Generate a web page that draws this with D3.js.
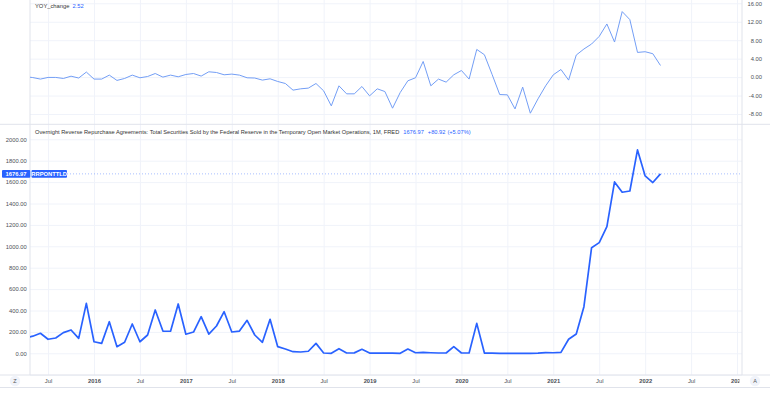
<!DOCTYPE html>
<html>
<head>
<meta charset="utf-8">
<script src="https://cdn.jsdelivr.net/npm/d3@7"></script>
<style>
  html, body { margin: 0; padding: 0; background: #ffffff; }
  svg { display: block; font-family: "Liberation Sans", Arial, sans-serif; }
</style>
</head>
<body>
<svg id="chart" width="770" height="393"></svg>
<script>
// ---------- DATA (monthly, first month = Apr 2015) ----------
const startYear = 2015;
const startMonth = 4; // April

const rrpValues = [
  140, 160, 187, 131, 143, 193, 218, 140, 467,              // 2015 Apr-Dec
  108, 93, 295, 62, 103, 274, 108, 171, 405, 208, 206, 461, // 2016
  178, 199, 342, 180, 255, 389, 199, 208, 308, 171, 103, 318, // 2017
  62, 40, 15, 12, 19, 93, 3, 0, 43, 3, 4, 37,               // 2018
  2, 2, 2, 1, 0, 40, 5, 8, 5, 3, 3, 62,                     // 2019
  3, 3, 280, 2, 1, 0, 0, 0, 0, 0, 1, 6,                     // 2020
  5, 9, 131, 180, 436, 987, 1034, 1184, 1602, 1505, 1517, 1901, // 2021
  1658, 1596.05, 1676.97                                    // 2022 Jan-Mar
];

const yoyValues = [
  0.1, -0.1, -0.43, -0.07, -0.07, -0.3, 0.2, -0.2, 1.09,            // 2015
  -0.43, -0.43, 0.43, -0.72, -0.3, 0.43, -0.15, 0.13, 0.78, 0, 0.43, 0.07, // 2016
  0.57, 0.78, 0.22, 1.15, 1.0, 0.5, 0.65, 0.43, -0.15, -0.2, -0.65, -0.37, // 2017
  -0.95, -1.39, -2.83, -2.54, -2.39, -1.39, -2.98, -6.24, -1.89, -3.63, -3.63, -2.04, // 2018
  -4.07, -2.54, -3.13, -6.74, -3.35, -0.8, -0.15, 3.39, -1.89, -0.43, -1.09, 0.5, // 2019
  1.43, -0.43, 6.0, 4.85, 0.6, -3.78, -3.85, -6.9, -2.17, -7.83, -4.72, -1.89, // 2020
  0.5, 1.65, -0.65, 4.78, 6.09, 7.17, 8.83, 11.52, 7.6, 14.2, 12.46, 5.35, // 2021
  5.5, 5.07, 2.52                                                    // 2022
];

const yoyTicks = [-8, -4, 0, 4, 8, 12, 16];
const rrpTicks = [0, 200, 400, 600, 800, 1000, 1200, 1400, 1600, 1800, 2000];
const timeTickLabels = ["Jul", "2016", "Jul", "2017", "Jul", "2018", "Jul", "2019", "Jul",
                        "2020", "Jul", "2021", "Jul", "2022", "Jul", "2023"];
const timeTickMonths = [-6, 0, 6, 12, 18, 24, 30, 36, 42, 48, 54, 60, 66, 72, 78, 84]; // months since Jan 2016

const topTitle = "YOY_change";
const bottomTitle = "Overnight Reverse Repurchase Agreements: Total Securities Sold by the Federal Reserve in the Temporary Open Market Operations, 1M, FRED";
const bottomSymbol = "RRPONTTLD";

// month index since Jan 2016 for each data point
const offset0 = (startYear - 2016) * 12 + (startMonth - 1);
const rrp = rrpValues.map((v, i) => ({ m: offset0 + i, v }));
const yoy = yoyValues.map((v, i) => ({ m: offset0 + i, v }));

// ---------- LAYOUT ----------
const W = 770, H = 393;
const plotL = 30, plotR = 742;
const topT = 0, topB = 124.3;
const botT = 124.3, botB = 375;

const svg = d3.select("#chart");
svg.append("rect").attr("width", W).attr("height", H).attr("fill", "#fff");

const x = d3.scaleLinear()
  .domain([(plotL - 94) / 7.655, (plotR - 94) / 7.655])
  .range([plotL, plotR]);

const yTop = d3.scaleLinear().domain([-8, 16]).range([114, 3.3]);
const yBot = d3.scaleLinear().domain([0, 2000]).range([353.3, 139.3]);

const gridColor = "#f0f3fa";
const borderColor = "#e0e3eb";
const textColor = "#4c4f57";
const fs = 5.8;

// ---------- GRID ----------
function vGrid(t, b) {
  const g = svg.append("g").attr("transform", `translate(0,${b})`)
    .call(d3.axisBottom(x).tickValues(timeTickMonths).tickSize(-(b - t)).tickFormat(""));
  g.select(".domain").remove();
  g.selectAll("line").attr("stroke", gridColor);
}
vGrid(topT, topB);
vGrid(botT, botB);

const hgTop = svg.append("g").attr("transform", `translate(${plotL},0)`)
  .call(d3.axisLeft(yTop).tickValues(yoyTicks).tickSize(-(plotR - plotL)).tickFormat(""));
hgTop.select(".domain").remove();
hgTop.selectAll("line").attr("stroke", gridColor);

const hgBot = svg.append("g").attr("transform", `translate(${plotL},0)`)
  .call(d3.axisLeft(yBot).tickValues([-200].concat(rrpTicks)).tickSize(-(plotR - plotL)).tickFormat(""));
hgBot.select(".domain").remove();
hgBot.selectAll("line").attr("stroke", gridColor);

// ---------- BORDERS ----------
function hline(y0, x0, x1) {
  svg.append("line").attr("x1", x0).attr("x2", x1).attr("y1", y0).attr("y2", y0)
    .attr("stroke", borderColor).attr("stroke-width", 1);
}
function vline(x0, y0, y1) {
  svg.append("line").attr("x1", x0).attr("x2", x0).attr("y1", y0).attr("y2", y1)
    .attr("stroke", borderColor).attr("stroke-width", 1);
}
hline(topB, 0, W);
hline(botB, 0, W);
hline(387.5, 0, W);
vline(plotL, 0, botB);
vline(plotR, 0, botB);

// ---------- CLIPS ----------
const defs = svg.append("defs");
defs.append("clipPath").attr("id", "clipTop").append("rect")
  .attr("x", plotL).attr("y", topT).attr("width", plotR - plotL).attr("height", topB - topT);
defs.append("clipPath").attr("id", "clipBot").append("rect")
  .attr("x", plotL).attr("y", botT).attr("width", plotR - plotL).attr("height", botB - botT);

// ---------- LINES ----------
const lineTop = d3.line().x(d => x(d.m)).y(d => yTop(d.v));
const lineBot = d3.line().x(d => x(d.m)).y(d => yBot(d.v));

svg.append("path").datum(yoy)
  .attr("clip-path", "url(#clipTop)")
  .attr("d", lineTop)
  .attr("fill", "none")
  .attr("stroke", "#739ef5")
  .attr("stroke-width", 1)
  .attr("stroke-linejoin", "round");

// dotted last-value line
const lastR = rrp[rrp.length - 1];
svg.append("line")
  .attr("x1", 67).attr("x2", plotR)
  .attr("y1", yBot(lastR.v)).attr("y2", yBot(lastR.v))
  .attr("stroke", "#2962ff").attr("stroke-opacity", 0.4)
  .attr("stroke-width", 1).attr("stroke-dasharray", "1,2");

svg.append("path").datum(rrp)
  .attr("clip-path", "url(#clipBot)")
  .attr("d", lineBot)
  .attr("fill", "none")
  .attr("stroke", "#2962ff")
  .attr("stroke-width", 1.7)
  .attr("stroke-linejoin", "round");

// ---------- AXES ----------
const axTop = svg.append("g").attr("transform", "translate(762,0)")
  .call(d3.axisLeft(yTop).tickValues(yoyTicks).tickSize(0).tickPadding(0).tickFormat(d => d.toFixed(2)));
axTop.select(".domain").remove();
axTop.selectAll("text").attr("font-size", fs).attr("fill", textColor).attr("font-family", null);

const axBot = svg.append("g").attr("transform", "translate(26.8,0)")
  .call(d3.axisLeft(yBot).tickValues(rrpTicks).tickSize(0).tickPadding(0).tickFormat(d => d.toFixed(2)));
axBot.select(".domain").remove();
axBot.selectAll("text").attr("font-size", fs).attr("fill", textColor).attr("font-family", null);

const axX = svg.append("g").attr("transform", `translate(0,${botB})`)
  .call(d3.axisBottom(x).tickValues(timeTickMonths).tickSize(0).tickPadding(3.5)
    .tickFormat((d, i) => timeTickLabels[i]));
axX.select(".domain").remove();
axX.selectAll("text").attr("font-size", fs).attr("fill", textColor).attr("font-family", null)
  .attr("font-weight", (d, i) => timeTickLabels[i] === "Jul" ? 400 : 700);
axX.attr("clip-path", "url(#clipX)");
defs.append("clipPath").attr("id", "clipX").append("rect")
  .attr("x", 0).attr("y", 0).attr("width", plotR - 2.5).attr("height", 20);

// ---------- TITLES ----------
const t1 = svg.append("text").attr("x", 35).attr("y", 8).attr("font-size", fs);
t1.append("tspan").attr("fill", "#333").text(topTitle);
t1.append("tspan").attr("fill", "#2962ff").attr("dx", 3).text(yoyValues[yoyValues.length - 1].toFixed(2));

const prev = rrpValues[rrpValues.length - 2];
const chg = lastR.v - prev;
const pct = chg / prev * 100;
const t2 = svg.append("text").attr("x", 35).attr("y", 133.6).attr("font-size", 5.7);
t2.append("tspan").attr("fill", "#333").text(bottomTitle);
t2.append("tspan").attr("fill", "#2962ff").attr("dx", 4).text(lastR.v.toFixed(2));
t2.append("tspan").attr("fill", "#2962ff").attr("dx", 4).text((chg >= 0 ? "+" : "") + chg.toFixed(2));
t2.append("tspan").attr("fill", "#2962ff").attr("dx", 2).text(`(${pct >= 0 ? "+" : ""}${pct.toFixed(2)}%)`);

// ---------- LAST VALUE LABELS ----------
const ly = yBot(lastR.v);
svg.append("rect").attr("x", 2).attr("y", ly - 3.8).attr("width", 28.3).attr("height", 7.6)
  .attr("fill", "#2962ff").attr("rx", 1);
svg.append("text").attr("x", 16.1).attr("y", ly + 2).attr("text-anchor", "middle")
  .attr("font-size", fs).attr("fill", "#fff").attr("font-weight", 700).text(lastR.v.toFixed(2));
svg.append("rect").attr("x", 31.5).attr("y", ly - 3.8).attr("width", 35.5).attr("height", 7.6)
  .attr("fill", "#2962ff").attr("rx", 1);
svg.append("text").attr("x", 49.2).attr("y", ly + 2).attr("text-anchor", "middle")
  .attr("font-size", fs).attr("fill", "#fff").attr("font-weight", 700).text(bottomSymbol);

// ---------- CORNER BUTTONS ----------
[[15, "Z"], [755, "A"]].forEach(([cx, lab]) => {
  svg.append("circle").attr("cx", cx).attr("cy", 381).attr("r", 5.2).attr("fill", "#f0f3fa");
  svg.append("text").attr("x", cx).attr("y", 383).attr("text-anchor", "middle")
    .attr("font-size", 5.5).attr("fill", "#555").text(lab);
});
</script>
</body>
</html>
